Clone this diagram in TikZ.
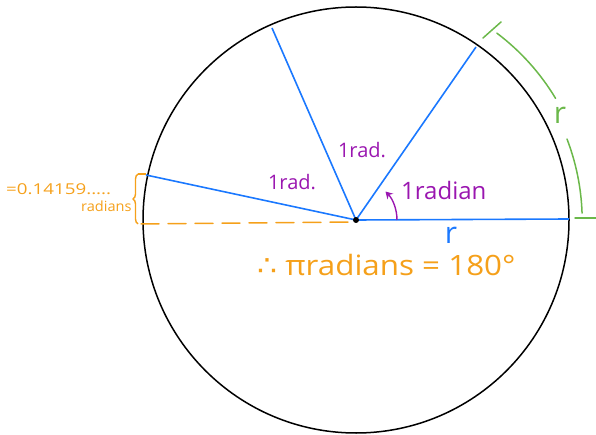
\documentclass[tikz,border=0pt]{standalone}
\usepackage{fontspec}
\setmainfont{Open Sans}
\newfontfamily\symfont{DejaVu Sans}
\usetikzlibrary{decorations.pathreplacing,arrows.meta,calc}
\definecolor{myblue}{HTML}{1A78FF}
\definecolor{myorange}{HTML}{F5A01A}
\definecolor{mypurple}{HTML}{9A16B0}
\definecolor{mygreen}{HTML}{6BB84A}
\tikzset{
  radline/.style={myblue, line width=1.6pt},
  purpletext/.style={mypurple, inner sep=0pt},
  orangetext/.style={myorange, inner sep=0pt},
  greenline/.style={mygreen, line width=1.5pt, line cap=round},
}
\begin{document}
\begin{tikzpicture}[x=1pt,y=-1pt]
\useasboundingbox (0,0) rectangle (596,435);
\coordinate (c) at (356,220);
\draw[black, line width=1.5pt] (c) circle[radius=213];
% radius lines
\coordinate (e0) at (569,219);
\coordinate (e1) at (476,47);
\coordinate (e2) at (272,28);
\coordinate (e3) at (146,175);
\draw[radline] (c) -- (e0);
\draw[radline] (c) -- (e1);
\draw[radline] (c) -- (e2);
\draw[radline] (c) -- (e3);
% orange dashed
\coordinate (dl) at (141,224);
\draw[myorange, line width=1.5pt, dash pattern=on 18pt off 9pt, line cap=round] (dl) -- ($(c)+(-4,2)$);
\fill[black] (c) circle[radius=3];
% brace
\coordinate (bt) at (138,174);
\coordinate (bb) at (138,224);
\draw[myorange, line width=1.4pt, decorate, decoration={brace, amplitude=5pt}] (bb) -- (bt);
\draw[myorange, line width=1.4pt] (bt) -- (146,174);
\node[orangetext, anchor=west, font=\fontsize{15}{15}\selectfont] (eq) at (6,189) {\scalebox{1.25}[1]{=0.14159.....}};
\node[orangetext, anchor=west, font=\fontsize{14}{14}\selectfont] (rads) at (81,206) {\scalebox{1.04}[1]{radians}};
% purple labels
\node[purpletext, font=\fontsize{20}{20}\selectfont] (l1) at (292,182) {1rad.};
\node[purpletext, font=\fontsize{20}{20}\selectfont] (l2) at (362,150) {1rad.};
\node[purpletext, anchor=west, font=\fontsize{24}{24}\selectfont] (l3) at (401,191) {1radian};
\coordinate (a0) at ($(c)+(0:41)$);
\draw[mypurple, line width=1.4pt, -{Stealth[length=7pt,width=8pt]}] (a0) arc[start angle=0, end angle=-44, radius=41];
% blue r
\node[myblue, inner sep=0pt, font=\fontsize{30}{30}\selectfont] (r1) at (451,235) {r};
% green arc
\draw[greenline] (483,38) -- (501,22);
\draw[greenline] ($(c)+(-53:234)$) arc[start angle=-53, end angle=-31, radius=230];
\draw[greenline] ($(c)+(-21:226)$) arc[start angle=-21, end angle=-2, radius=229];
\draw[greenline] (575,218) -- (596,218);
\node[mygreen, inner sep=0pt, font=\fontsize{30}{30}\selectfont] (r2) at (560,115) {r};
% conclusion
\node[orangetext, anchor=west, font=\fontsize{28}{28}\selectfont] (concl) at (257,265) {\scalebox{1.12}[1]{{\symfont ∴} πradians = 180°}};
\end{tikzpicture}
\end{document}
